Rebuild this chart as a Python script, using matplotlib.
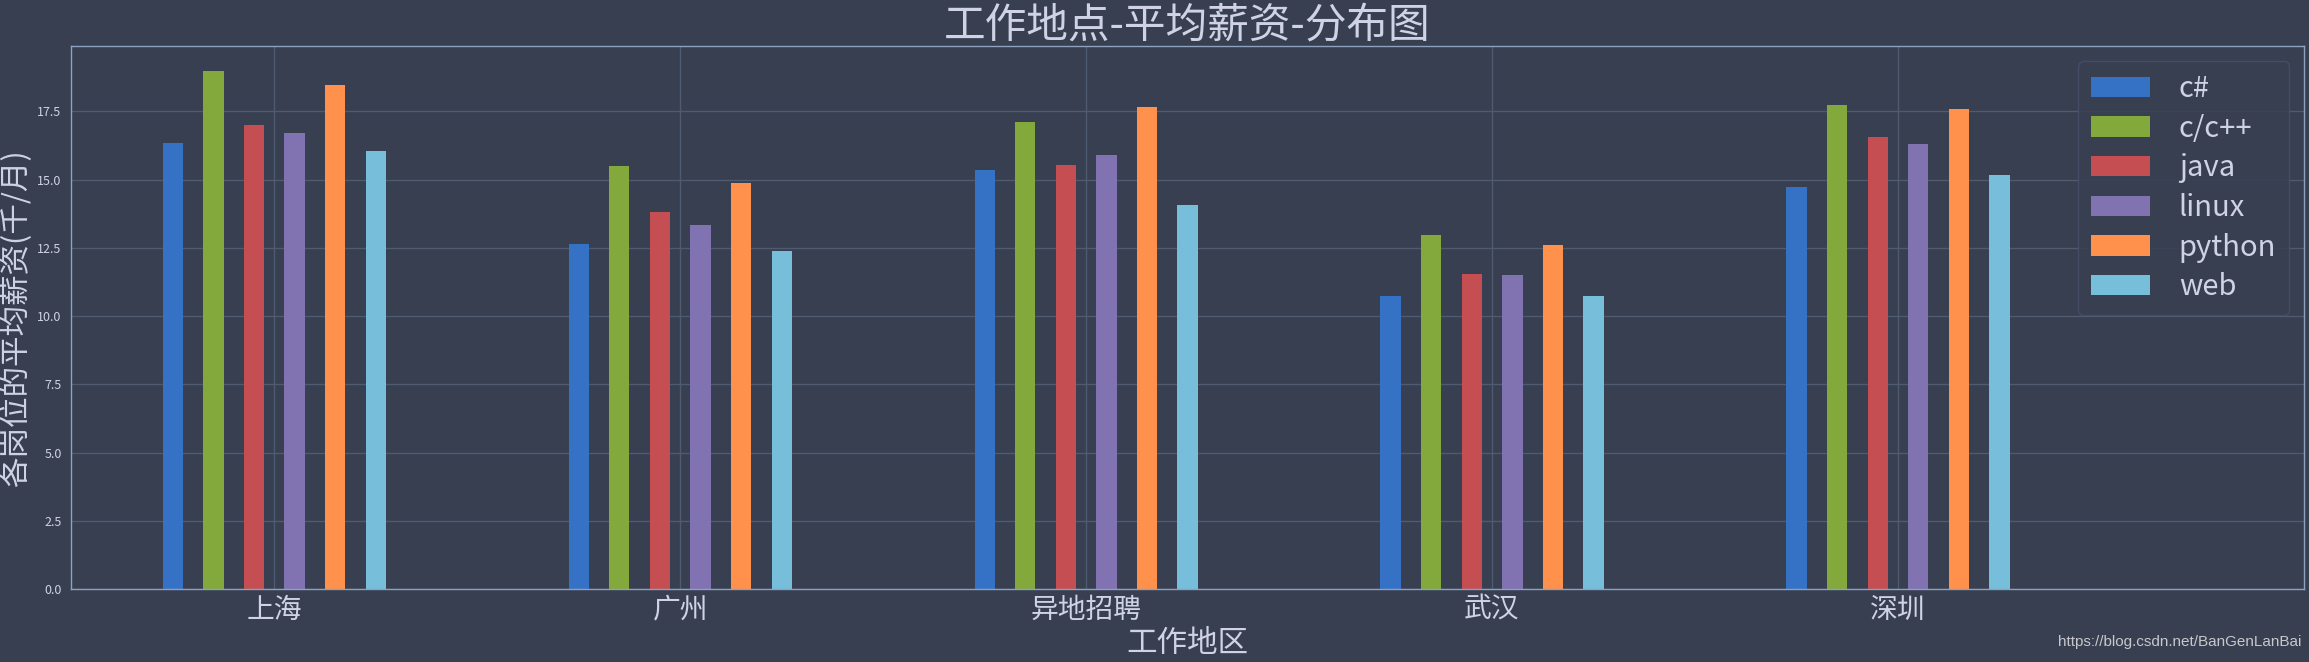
import matplotlib
matplotlib.use("Agg")
import matplotlib.pyplot as plt
import numpy as np

cities = ["上海", "广州", "异地招聘", "武汉", "深圳"]
languages = ["c#", "c/c++", "java", "linux", "python", "web"]
salary_csharp = [16.34, 12.64, 15.35, 10.74, 14.73]
salary_cpp = [18.98, 15.50, 17.11, 12.97, 17.73]
salary_java = [17.00, 13.82, 15.53, 11.54, 16.57]
salary_linux = [16.71, 13.34, 15.91, 11.51, 16.31]
salary_python = [18.47, 14.88, 17.67, 12.61, 17.59]
salary_web = [16.04, 12.38, 14.06, 10.74, 15.16]
series = [salary_csharp, salary_cpp, salary_java, salary_linux, salary_python, salary_web]
colors = ["#3572C6", "#83A83B", "#C44E52", "#8172B2", "#FF914D", "#77BEDB"]

BG = "#373f51"
TXT = "#cfd3e3"
GRID = "#4f5b70"
SPINE = "#8ea2c0"

plt.rcParams['font.family'] = ['Noto Sans CJK SC', 'DejaVu Sans']

fig = plt.figure(figsize=(23.09, 6.62), dpi=100, facecolor=BG)
ax = fig.add_axes([0.0309, 0.110, 0.9669, 0.820])
ax.set_facecolor(BG)

x = np.arange(len(cities))
width = 0.05
for i, (vals, lab, c) in enumerate(zip(series, languages, colors)):
    ax.bar(x + (i - 2.5) * 0.1, vals, width=width, color=c, label=lab, zorder=2)

ax.set_xlim(-0.5, 5.0)
ax.set_ylim(0, 19.88)
ax.set_yticks(np.arange(0, 18, 2.5))
ax.set_xticks(x)
ax.set_xticklabels(cities, fontsize=20, color=TXT)
ax.tick_params(axis='y', labelsize=9, colors=TXT, length=0, pad=7)
ax.tick_params(axis='x', length=0, pad=4)
ax.grid(True, color=GRID, linewidth=1, zorder=0)
ax.set_axisbelow(True)
for s in ax.spines.values():
    s.set_color(SPINE)
    s.set_linewidth(1)

ax.set_title("工作地点-平均薪资-分布图", fontsize=30, color=TXT, pad=2)
ax.set_xlabel("工作地区", fontsize=22, color=TXT, labelpad=2)
ax.set_ylabel("各岗位的平均薪资(千/月)", fontsize=22, color=TXT, labelpad=4)

leg = ax.legend(loc='upper right', fontsize=21, frameon=True, facecolor=BG,
                edgecolor="#46506a", framealpha=0.85, borderaxespad=0.5,
                labelspacing=0.33, handletextpad=1.0, borderpad=0.45)
for t in leg.get_texts():
    t.set_color(TXT)

fig.text(0.9965, 0.030, "https://blog.csdn.net/BanGenLanBai", ha='right', va='center',
         fontsize=11, color="#c8c8cc", family=['Liberation Sans', 'DejaVu Sans'])

fig.savefig("out.png", dpi=100, facecolor=BG)
